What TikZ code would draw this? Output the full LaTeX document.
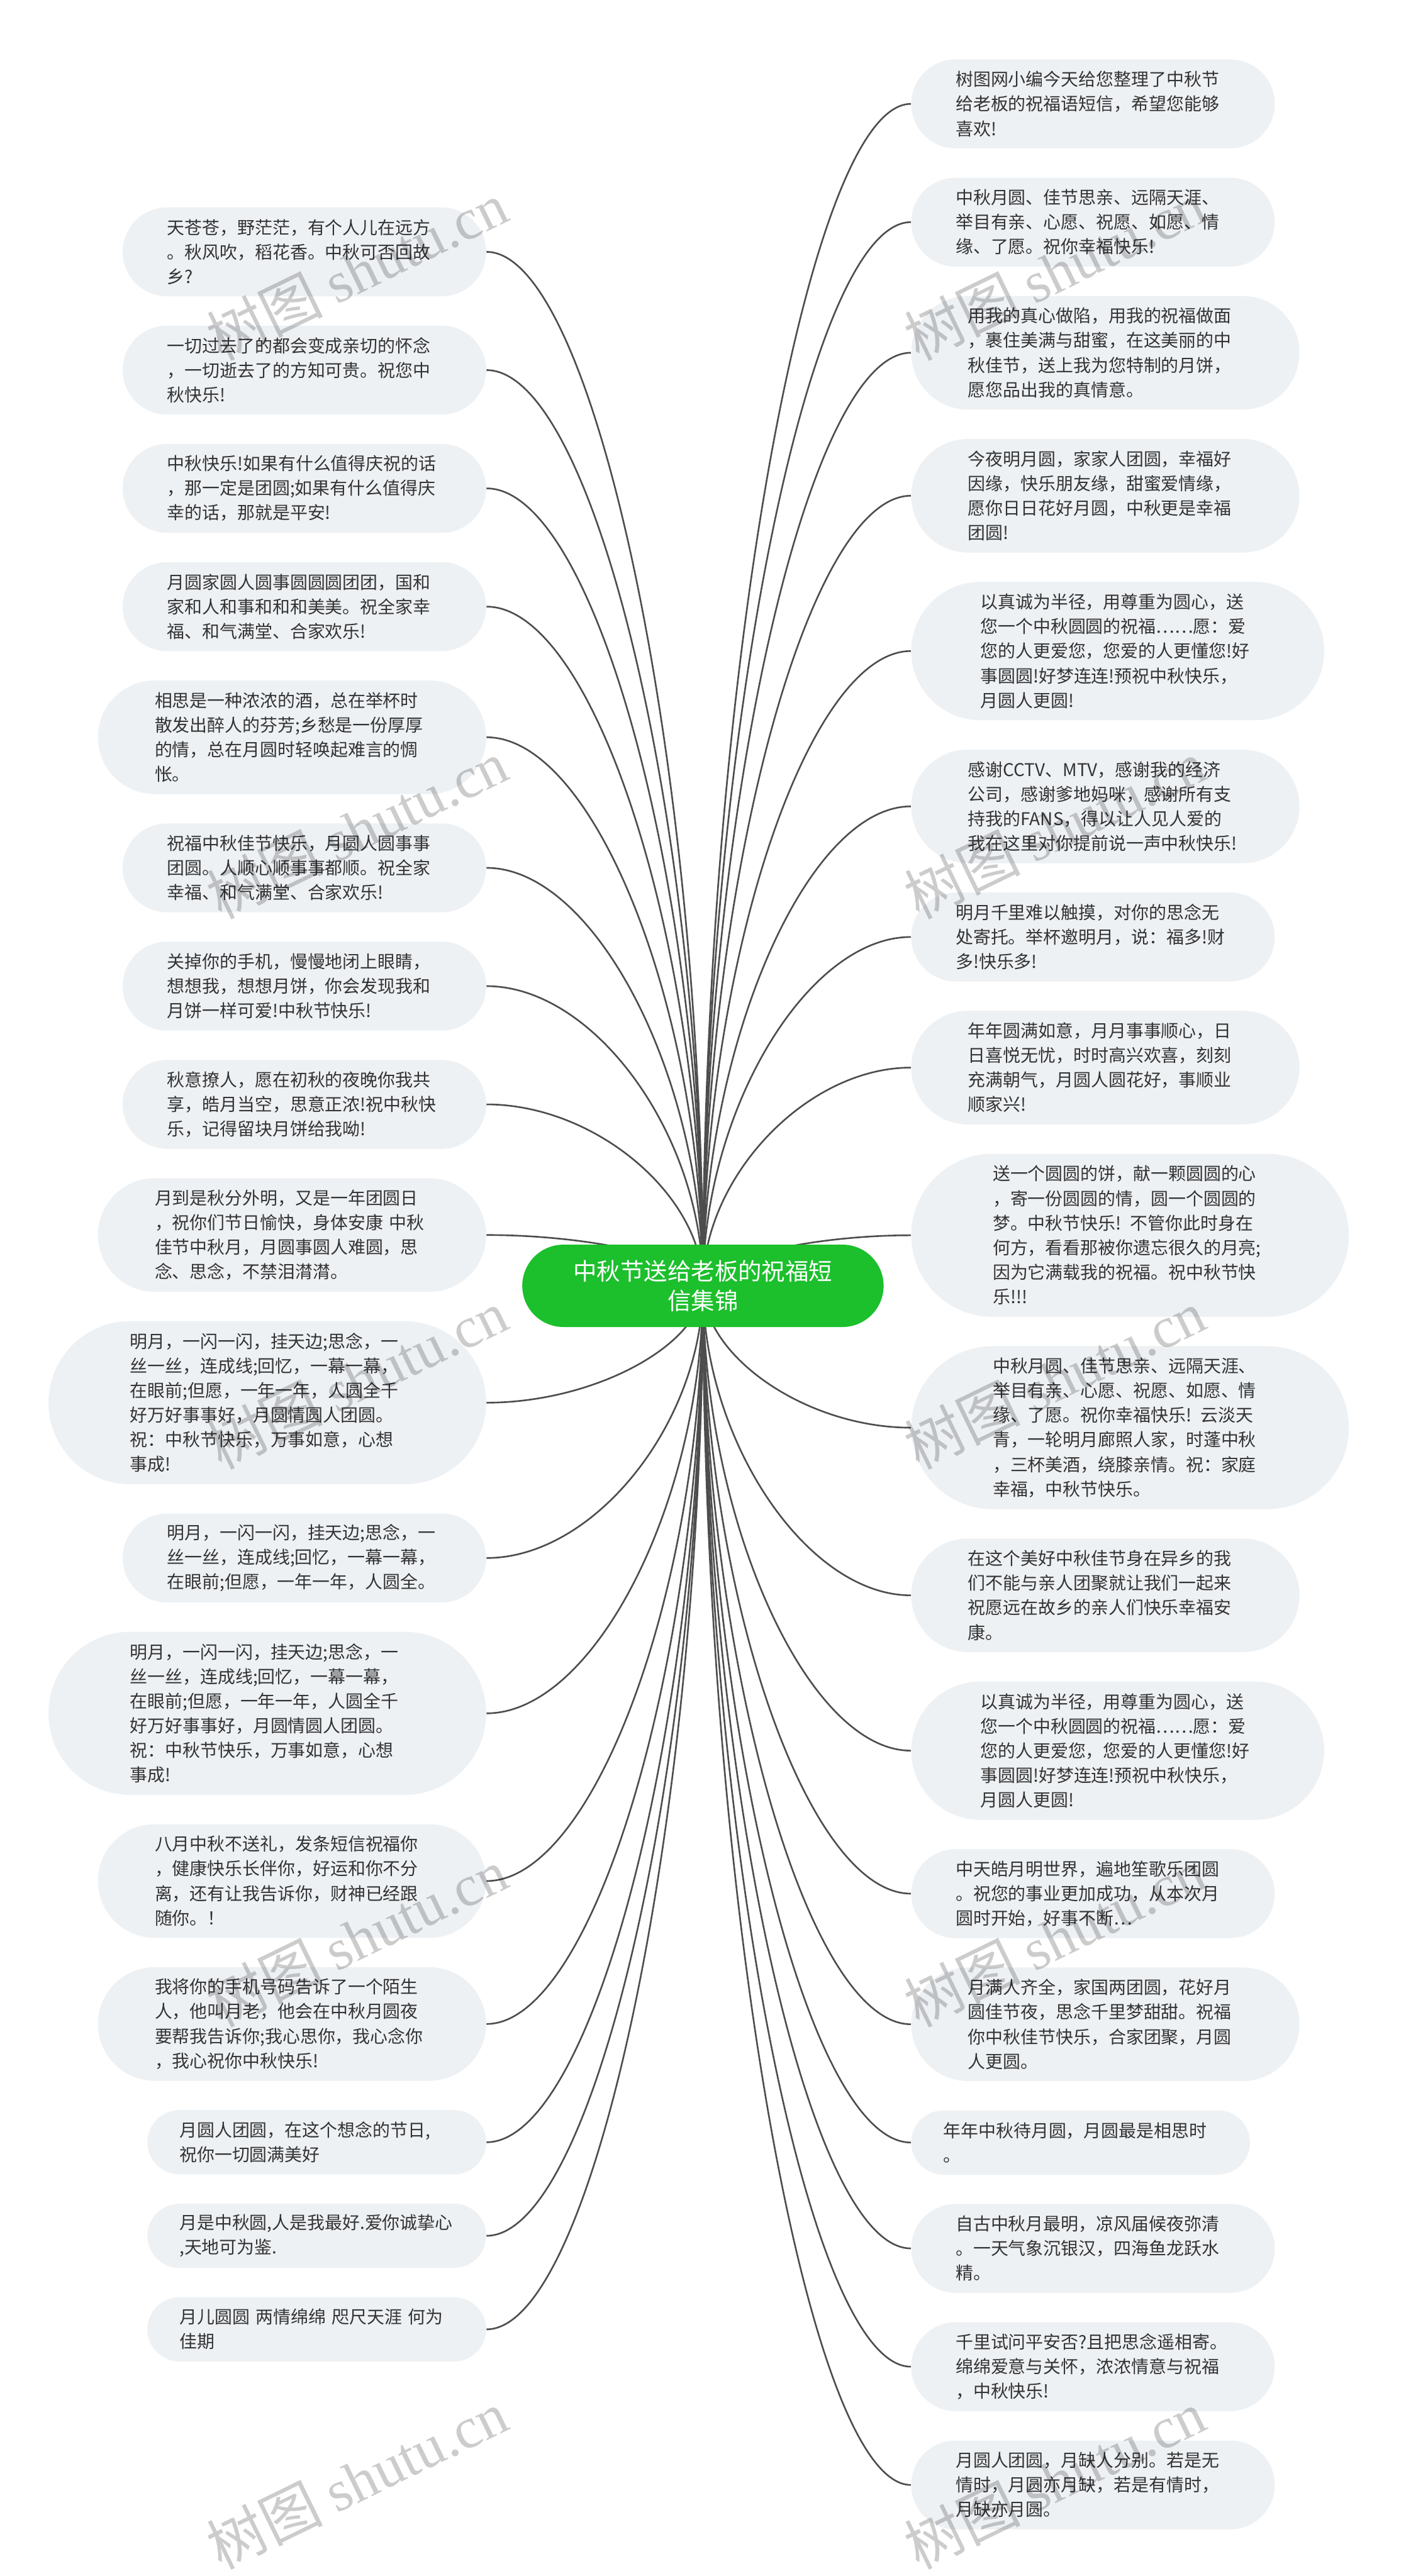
\documentclass[tikz,border=0pt]{standalone}
\usepackage{fontspec}
\newfontfamily\cjk{Noto Sans CJK SC}
\newfontfamily\wmserif{Liberation Serif}
\usepackage{xcolor}
\usetikzlibrary{positioning, calc, backgrounds}
\definecolor{bubblefill}{HTML}{EEF1F4}
\definecolor{bubbletext}{HTML}{333333}
\definecolor{hubgreen}{HTML}{1CBF2C}
\definecolor{branchgray}{HTML}{4D4D4D}
\tikzset{
  bubble/.style={
    rectangle, fill=bubblefill, text=bubbletext,
    font=\cjk\fontsize{9.1}{12.76}\selectfont, align=left,
    text width=5cm, inner ysep=0pt,
    minimum height={#1*0.45cm+0.27cm},
    inner xsep={#1*0.225cm+0.135cm},
    rounded corners={#1*0.225cm+0.135cm}
  },
  hub/.style={
    rectangle, fill=hubgreen, text=white,
    font=\cjk\fontsize{12.2}{15.3}\selectfont, align=center,
    text width=4.75cm, minimum height=1.5cm,
    inner xsep=0.915cm, inner ysep=0pt, rounded corners=0.75cm
  },
  branch/.style={line width=0.03cm, branchgray},
  wm/.style={rotate=26, text=black, text opacity=0.2, inner sep=0pt}
}

\begin{document}
\begin{tikzpicture}[node distance=0.52cm]
  \useasboundingbox (0,0) rectangle (25.6,-46.92);
  \begin{scope}[on background layer]
    \fill[white] (0,0) rectangle (25.6,-46.92);
  \end{scope}

  % centre
  \node[hub] (hub) at (12.80,-23.42) {中秋节送给老板的祝福短\\信集锦};

  % left column
  \node[bubble=3, anchor=north east] (l1) at (8.86,-3.77)
    {天苍苍，野茫茫，有个人儿在远方\\。秋风吹，稻花香。中秋可否回故\\乡?};
  \node[bubble=3, below=of l1.south east, anchor=north east] (l2)
    {一切过去了的都会变成亲切的怀念\\，一切逝去了的方知可贵。祝您中\\秋快乐!};
  \node[bubble=3, below=of l2.south east, anchor=north east] (l3)
    {中秋快乐!如果有什么值得庆祝的话\\，那一定是团圆;如果有什么值得庆\\幸的话，那就是平安!};
  \node[bubble=3, below=of l3.south east, anchor=north east] (l4)
    {月圆家圆人圆事圆圆圆团团，国和\\家和人和事和和和美美。祝全家幸\\福、和气满堂、合家欢乐!};
  \node[bubble=4, below=of l4.south east, anchor=north east] (l5)
    {相思是一种浓浓的酒，总在举杯时\\散发出醉人的芬芳;乡愁是一份厚厚\\的情，总在月圆时轻唤起难言的惆\\怅。};
  \node[bubble=3, below=of l5.south east, anchor=north east] (l6)
    {祝福中秋佳节快乐，月圆人圆事事\\团圆。人顺心顺事事都顺。祝全家\\幸福、和气满堂、合家欢乐!};
  \node[bubble=3, below=of l6.south east, anchor=north east] (l7)
    {关掉你的手机，慢慢地闭上眼睛，\\想想我，想想月饼，你会发现我和\\月饼一样可爱!中秋节快乐!};
  \node[bubble=3, below=of l7.south east, anchor=north east] (l8)
    {秋意撩人，愿在初秋的夜晚你我共\\享，皓月当空，思意正浓!祝中秋快\\乐，记得留块月饼给我呦!};
  \node[bubble=4, below=of l8.south east, anchor=north east] (l9)
    {月到是秋分外明，又是一年团圆日\\，祝你们节日愉快，身体安康 中秋\\佳节中秋月，月圆事圆人难圆，思\\念、思念，不禁泪潸潸。};
  \node[bubble=6, below=of l9.south east, anchor=north east] (l10)
    {明月，一闪一闪，挂天边;思念，一\\丝一丝，连成线;回忆，一幕一幕，\\在眼前;但愿，一年一年，人圆全千\\好万好事事好，月圆情圆人团圆。\\祝：中秋节快乐，万事如意，心想\\事成!};
  \node[bubble=3, below=of l10.south east, anchor=north east] (l11)
    {明月，一闪一闪，挂天边;思念，一\\丝一丝，连成线;回忆，一幕一幕，\\在眼前;但愿，一年一年，人圆全。};
  \node[bubble=6, below=of l11.south east, anchor=north east] (l12)
    {明月，一闪一闪，挂天边;思念，一\\丝一丝，连成线;回忆，一幕一幕，\\在眼前;但愿，一年一年，人圆全千\\好万好事事好，月圆情圆人团圆。\\祝：中秋节快乐，万事如意，心想\\事成!};
  \node[bubble=4, below=of l12.south east, anchor=north east] (l13)
    {八月中秋不送礼，发条短信祝福你\\，健康快乐长伴你，好运和你不分\\离，还有让我告诉你，财神已经跟\\随你。！};
  \node[bubble=4, below=of l13.south east, anchor=north east] (l14)
    {我将你的手机号码告诉了一个陌生\\人，他叫月老，他会在中秋月圆夜\\要帮我告诉你;我心思你，我心念你\\，我心祝你中秋快乐!};
  \node[bubble=2, below=of l14.south east, anchor=north east] (l15)
    {月圆人团圆，在这个想念的节日,\\祝你一切圆满美好};
  \node[bubble=2, below=of l15.south east, anchor=north east] (l16)
    {月是中秋圆,人是我最好.爱你诚挚心\\,天地可为鉴.};
  \node[bubble=2, below=of l16.south east, anchor=north east] (l17)
    {月儿圆圆 两情绵绵 咫尺天涯 何为\\佳期};

  % right column
  \node[bubble=3, anchor=north west] (r1) at (16.585,-1.075)
    {树图网小编今天给您整理了中秋节\\给老板的祝福语短信，希望您能够\\喜欢!};
  \node[bubble=3, below=of r1.south west, anchor=north west] (r2)
    {中秋月圆、佳节思亲、远隔天涯、\\举目有亲、心愿、祝愿、如愿、情\\缘、了愿。祝你幸福快乐!};
  \node[bubble=4, below=of r2.south west, anchor=north west] (r3)
    {用我的真心做陷，用我的祝福做面\\，裹住美满与甜蜜，在这美丽的中\\秋佳节，送上我为您特制的月饼，\\愿您品出我的真情意。};
  \node[bubble=4, below=of r3.south west, anchor=north west] (r4)
    {今夜明月圆，家家人团圆，幸福好\\因缘，快乐朋友缘，甜蜜爱情缘，\\愿你日日花好月圆，中秋更是幸福\\团圆!};
  \node[bubble=5, below=of r4.south west, anchor=north west] (r5)
    {以真诚为半径，用尊重为圆心，送\\您一个中秋圆圆的祝福……愿：爱\\您的人更爱您，您爱的人更懂您!好\\事圆圆!好梦连连!预祝中秋快乐，\\月圆人更圆!};
  \node[bubble=4, below=of r5.south west, anchor=north west] (r6)
    {感谢CCTV、MTV，感谢我的经济\\公司，感谢爹地妈咪，感谢所有支\\持我的FANS，得以让人见人爱的\\我在这里对你提前说一声中秋快乐!};
  \node[bubble=3, below=of r6.south west, anchor=north west] (r7)
    {明月千里难以触摸，对你的思念无\\处寄托。举杯邀明月，说：福多!财\\多!快乐多!};
  \node[bubble=4, below=of r7.south west, anchor=north west] (r8)
    {年年圆满如意，月月事事顺心，日\\日喜悦无忧，时时高兴欢喜，刻刻\\充满朝气，月圆人圆花好，事顺业\\顺家兴!};
  \node[bubble=6, below=of r8.south west, anchor=north west] (r9)
    {送一个圆圆的饼，献一颗圆圆的心\\，寄一份圆圆的情，圆一个圆圆的\\梦。中秋节快乐! 不管你此时身在\\何方，看看那被你遗忘很久的月亮;\\因为它满载我的祝福。祝中秋节快\\乐!!!};
  \node[bubble=6, below=of r9.south west, anchor=north west] (r10)
    {中秋月圆、佳节思亲、远隔天涯、\\举目有亲、心愿、祝愿、如愿、情\\缘、了愿。祝你幸福快乐! 云淡天\\青，一轮明月廊照人家，时蓬中秋\\，三杯美酒，绕膝亲情。祝：家庭\\幸福，中秋节快乐。};
  \node[bubble=4, below=of r10.south west, anchor=north west] (r11)
    {在这个美好中秋佳节身在异乡的我\\们不能与亲人团聚就让我们一起来\\祝愿远在故乡的亲人们快乐幸福安\\康。};
  \node[bubble=5, below=of r11.south west, anchor=north west] (r12)
    {以真诚为半径，用尊重为圆心，送\\您一个中秋圆圆的祝福……愿：爱\\您的人更爱您，您爱的人更懂您!好\\事圆圆!好梦连连!预祝中秋快乐，\\月圆人更圆!};
  \node[bubble=3, below=of r12.south west, anchor=north west] (r13)
    {中天皓月明世界，遍地笙歌乐团圆\\。祝您的事业更加成功，从本次月\\圆时开始，好事不断…};
  \node[bubble=4, below=of r13.south west, anchor=north west] (r14)
    {月满人齐全，家国两团圆，花好月\\圆佳节夜，思念千里梦甜甜。祝福\\你中秋佳节快乐，合家团聚，月圆\\人更圆。};
  \node[bubble=2, below=of r14.south west, anchor=north west] (r15)
    {年年中秋待月圆，月圆最是相思时\\。};
  \node[bubble=3, below=of r15.south west, anchor=north west] (r16)
    {自古中秋月最明，凉风届候夜弥清\\。一天气象沉银汉，四海鱼龙跃水\\精。};
  \node[bubble=3, below=of r16.south west, anchor=north west] (r17)
    {千里试问平安否?且把思念遥相寄。\\绵绵爱意与关怀，浓浓情意与祝福\\，中秋快乐!};
  \node[bubble=3, below=of r17.south west, anchor=north west] (r18)
    {月圆人团圆，月缺人分别。若是无\\情时，月圆亦月缺，若是有情时，\\月缺亦月圆。};

  % connectors
  \begin{scope}[on background layer]
    \foreach \i in {1,...,17}
      \draw[branch] (hub.center)
        .. controls ($(hub.center)!.5!(hub.center |- l\i.east)$)
        and ($(l\i.east)!.5!(hub.center |- l\i.east)$) .. (l\i.east);
    \foreach \i in {1,...,18}
      \draw[branch] (hub.center)
        .. controls ($(hub.center)!.5!(hub.center |- r\i.west)$)
        and ($(r\i.west)!.5!(hub.center |- r\i.west)$) .. (r\i.west);
  \end{scope}

  % watermark
  \foreach \y [count=\k] in {4.93,15.10,25.12,35.29,45.16} {
    \node[wm] (wml\k) at (6.5,-\y) {\cjk\fontsize{30}{30}\selectfont 树图 \wmserif shutu.cn};
    \node[wm] (wmr\k) at (19.2,-\y) {\cjk\fontsize{30}{30}\selectfont 树图 \wmserif shutu.cn};
  }
\end{tikzpicture}
\end{document}
